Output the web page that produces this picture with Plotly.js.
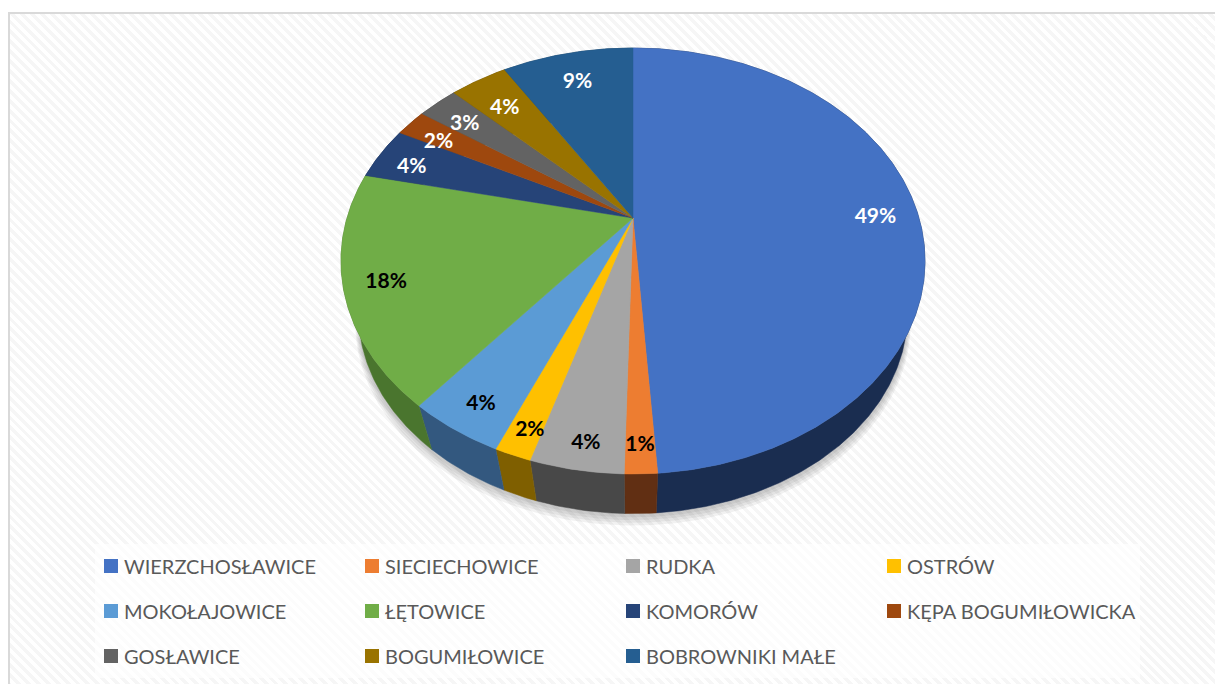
<!DOCTYPE html>
<html><head><meta charset="utf-8">
<script src="https://cdn.plot.ly/plotly-3.0.1.min.js"></script>
<style>
html,body{margin:0;padding:0;width:1215px;height:684px;overflow:hidden;background:#fff}
#bg{position:absolute;left:8px;top:12px;width:1400px;height:900px;box-sizing:border-box;border:2px solid #d9d9d9;
background:repeating-linear-gradient(45deg,#ffffff 0,#ffffff 3.5px,#f6f6f6 3.5px,#f6f6f6 7px)}
#chart{position:absolute;left:0;top:0;width:1215px;height:684px}
.legendtext,.legend2text,.legend3text{transform:translateX(-7px)}
.scrollbox{clip-path:none !important}
</style></head><body>
<div id="bg"></div><div id="chart"></div>
<script>
const categories=['WIERZCHOSŁAWICE','SIECIECHOWICE','RUDKA','OSTRÓW','MOKOŁAJOWICE','ŁĘTOWICE','KOMORÓW','KĘPA BOGUMIŁOWICKA','GOSŁAWICE','BOGUMIŁOWICE','BOBROWNIKI MAŁE'];
const values=[48.9,1.49,4.3,1.7,4.49,17.6,4.05,2.1,2.7,3.85,8.82];
const topColors=['#4472c4','#ed7d31','#a5a5a5','#ffc000','#5b9bd5','#70ad47','#264478','#9e480e','#636363','#997300','#255e91'];
const wallColors=['#1a2d50','#612f13','#484848','#7f5f00','#33587f','#4a752e','#172a4a','#612c09','#3c3c3c','#5d4600','#173a59'];
const labelColors=['#fff','#000','#000','#000','#000','#000','#fff','#fff','#fff','#fff','#fff'];
const legendRow=['legend','legend','legend','legend','legend2','legend2','legend2','legend2','legend3','legend3','legend3'];

// perspective view of the disc
const K=0.2019,A=204.3,B=286,CX=633,CY=218;
const BOTTOM_SCALE=0.94,BOTTOM_CY=273;
function proj(theta,r,scale,cy){
  const u=r*Math.sin(theta),v=r*Math.cos(theta),w=1+K*v;
  return [CX+scale*B*u/w, cy-scale*A*v/w];
}
const total=values.reduce((a,b)=>a+b,0);
const edges=[0];values.forEach(v=>edges.push(edges[edges.length-1]+v/total*2*Math.PI));
function arc(a,b,scale,cy){
  const n=Math.max(2,Math.ceil((b-a)/0.01)),p=[];
  for(let i=0;i<=n;i++)p.push(proj(a+(b-a)*i/n,1,scale,cy));
  return p;
}
const traces=[];
// soft shadow
[[9,1.012],[7,1.009],[5,1.006],[3,1.003]].forEach(s=>{
  const p=arc(0,2*Math.PI,BOTTOM_SCALE*s[1],BOTTOM_CY+s[0]);
  traces.push({type:'scatter',mode:'lines',x:p.map(q=>q[0]),y:p.map(q=>q[1]),fill:'toself',
    fillcolor:'rgba(0,0,0,0.055)',line:{width:0},showlegend:false,hoverinfo:'skip'});
});
// walls
categories.forEach((c,i)=>{
  const t=arc(edges[i],edges[i+1],1,CY),b=arc(edges[i],edges[i+1],BOTTOM_SCALE,BOTTOM_CY).reverse();
  const p=t.concat(b,[t[0]]);
  traces.push({type:'scatter',mode:'lines',name:c,legendgroup:c,x:p.map(q=>q[0]),y:p.map(q=>q[1]),fill:'toself',
    fillcolor:wallColors[i],line:{width:0.5,color:wallColors[i]},showlegend:false,hoverinfo:'skip'});
});
// top slices
categories.forEach((c,i)=>{
  const t=arc(edges[i],edges[i+1],1,CY),p=[[CX,CY]].concat(t,[[CX,CY]]);
  traces.push({type:'scatter',mode:'lines',name:c,legendgroup:c,x:p.map(q=>q[0]),y:p.map(q=>q[1]),fill:'toself',
    fillcolor:topColors[i],line:{width:0.5,color:topColors[i]},showlegend:false,hoverinfo:'name'});
});
// percentage labels: anchored on each slice's mid-angle, with a small pixel nudge
const nudgeX=[0,0,3,3,5,3,-8,-7,-4,1,-1];
const nudgeY=[6,2,3,4,1,3,5,5,4,6,2];
const mids=values.map((v,i)=>(edges[i]+edges[i+1])/2);
const labelPts=mids.map((m,i)=>{const q=proj(m,0.855-0.05*Math.cos(m),1,CY);return [q[0]+nudgeX[i],q[1]+nudgeY[i]];});
traces.push({type:'scatter',mode:'text',x:labelPts.map(q=>q[0]),y:labelPts.map(q=>q[1]),
  text:values.map(v=>Math.round(v)+'%'),textposition:'middle center',
  textfont:{family:'Lato, Carlito, sans-serif',size:21,weight:700,color:labelColors},showlegend:false,hoverinfo:'skip'});
// legend entries
categories.forEach((c,i)=>{
  traces.push({type:'scatter',mode:'markers',name:c,legendgroup:c,legend:legendRow[i],x:[null],y:[null],
    marker:{symbol:'square',size:14,color:topColors[i]},hoverinfo:'skip'});
});
function legendAt(py){return {orientation:'h',x:91/1215,y:1-py/684,xanchor:'left',yanchor:'middle',
  entrywidth:216,entrywidthmode:'pixels',bgcolor:'rgba(0,0,0,0)',borderwidth:0,
  font:{family:'Lato, Carlito, sans-serif',size:20,color:'#595959'},itemclick:false,itemdoubleclick:false};}
const layout={width:1215,height:684,margin:{l:0,r:0,t:0,b:0,autoexpand:false},
  paper_bgcolor:'rgba(0,0,0,0)',plot_bgcolor:'rgba(0,0,0,0)',showlegend:true,
  xaxis:{range:[0,1215],visible:false,fixedrange:true},
  yaxis:{range:[684,0],visible:false,fixedrange:true},
  legend:legendAt(566),legend2:legendAt(611),legend3:legendAt(656),
  shapes:[{type:'rect',xref:'x',yref:'y',x0:95,x1:1140,y0:544,y1:678,fillcolor:'rgba(255,255,255,0.65)',line:{width:0},layer:'below'}]};
Plotly.newPlot('chart',traces,layout,{displayModeBar:false});
</script></body></html>
